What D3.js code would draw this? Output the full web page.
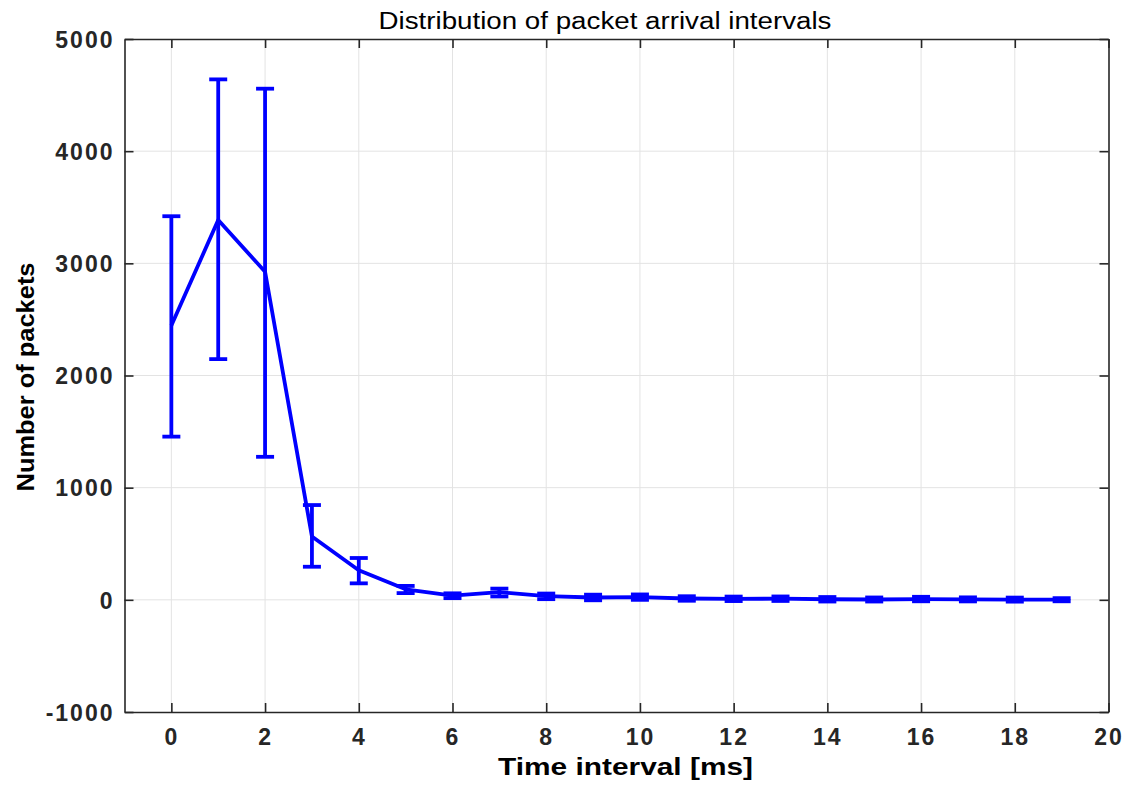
<!DOCTYPE html>
<html>
<head>
<meta charset="utf-8">
<script src="https://cdn.jsdelivr.net/npm/d3@7"></script>
<style>
  html, body { margin: 0; padding: 0; background: #fff; }
  svg { display: block; font-family: "Liberation Sans", Arial, sans-serif; }
</style>
</head>
<body>
<svg id="chart" width="1134" height="790"></svg>
<script>
// ---- data ----
const intervals = [0, 1, 2, 3, 4, 5, 6, 7, 8, 9, 10, 11, 12, 13, 14, 15, 16, 17, 18, 19];
const packets   = [2445, 3386, 2925, 565, 264, 94, 37, 68, 33, 21, 24, 12, 9, 10, 5, 3, 7, 4, 2, 1];
const lowerErr  = [990, 1240, 1650, 270, 117, 34, 22, 38, 27, 25, 24, 20, 20, 20, 20, 18, 20, 18, 18, 14];
const upperErr  = [975, 1254, 1632, 280, 109, 30, 21, 32, 23, 25, 24, 20, 20, 20, 20, 18, 20, 18, 18, 14];
const xTicks = [0, 2, 4, 6, 8, 10, 12, 14, 16, 18, 20];
const yTicks = [-1000, 0, 1000, 2000, 3000, 4000, 5000];
const titleText = "Distribution of packet arrival intervals";
const xLabelText = "Time interval [ms]";
const yLabelText = "Number of packets";

(function () {
// ---- layout ----
const svg = d3.select("#chart");
const pL = 124.5, pR = 1108.5, pT = 39, pB = 712;
const x = d3.scaleLinear().domain([-1, 20]).range([pL, pR]);
const y = d3.scaleLinear().domain([-1000, 5000]).range([pB, pT]);
const axisColor = "#262626";
const blue = "#0000ff";

// grid
const grid = svg.append("g");
grid.selectAll("line.vg").data(xTicks.filter(d => d < 20)).enter().append("line")
  .attr("x1", d => x(d)).attr("x2", d => x(d)).attr("y1", pT).attr("y2", pB)
  .attr("stroke", "#e3e3e3").attr("stroke-width", 1);
grid.selectAll("line.hg").data(yTicks.filter(d => d > -1000 && d < 5000)).enter().append("line")
  .attr("y1", d => y(d)).attr("y2", d => y(d)).attr("x1", pL).attr("x2", pR)
  .attr("stroke", "#e3e3e3").attr("stroke-width", 1);

// axes (box with inward ticks)
const tickLen = 9;
const fmt = d => String(d);
const axB = svg.append("g").attr("transform", `translate(0,${pB})`)
  .call(d3.axisBottom(x).tickValues(xTicks).tickSizeInner(-tickLen).tickSizeOuter(0).tickFormat(fmt));
const axT = svg.append("g").attr("transform", `translate(0,${pT})`)
  .call(d3.axisTop(x).tickValues(xTicks).tickSizeInner(-tickLen).tickSizeOuter(0).tickFormat(""));
const axL = svg.append("g").attr("transform", `translate(${pL},0)`)
  .call(d3.axisLeft(y).tickValues(yTicks).tickSizeInner(-tickLen).tickSizeOuter(0).tickFormat(fmt));
const axR = svg.append("g").attr("transform", `translate(${pR},0)`)
  .call(d3.axisRight(y).tickValues(yTicks).tickSizeInner(-tickLen).tickSizeOuter(0).tickFormat(""));

[axB, axT, axL, axR].forEach(a => {
  a.select(".domain").attr("stroke", axisColor).attr("stroke-width", 1.6);
  a.selectAll(".tick line").attr("stroke", axisColor).attr("stroke-width", 1.6);
});
axB.selectAll(".tick text").attr("font-size", 23).attr("font-weight", "bold")
  .attr("fill", axisColor).attr("letter-spacing", 2).attr("dy", "0").attr("y", 33)
  .attr("font-family", "Liberation Sans, Arial, sans-serif");
axL.selectAll(".tick text").attr("font-size", 23).attr("font-weight", "bold")
  .attr("fill", axisColor).attr("letter-spacing", 2).attr("dy", "0.36em")
  .attr("x", -10)
  .attr("font-family", "Liberation Sans, Arial, sans-serif");

// error bars
const capHalf = 9;
const eb = svg.append("g").attr("stroke", blue).attr("stroke-width", 3.8).attr("fill", "none");
intervals.forEach((t, i) => {
  const lo = packets[i] - lowerErr[i], hi = packets[i] + upperErr[i];
  eb.append("line").attr("x1", x(t)).attr("x2", x(t)).attr("y1", y(lo)).attr("y2", y(hi));
  eb.append("line").attr("x1", x(t) - capHalf).attr("x2", x(t) + capHalf).attr("y1", y(lo)).attr("y2", y(lo));
  eb.append("line").attr("x1", x(t) - capHalf).attr("x2", x(t) + capHalf).attr("y1", y(hi)).attr("y2", y(hi));
});

// line
const line = d3.line().x((d, i) => x(intervals[i])).y(d => y(d));
svg.append("path").datum(packets).attr("d", line)
  .attr("fill", "none").attr("stroke", blue).attr("stroke-width", 3.8).attr("stroke-linejoin", "round");

// title
svg.append("text").attr("x", 605).attr("y", 29).attr("text-anchor", "middle")
  .attr("font-size", 23).attr("fill", "#000").attr("textLength", 453).attr("lengthAdjust", "spacingAndGlyphs")
  .text(titleText);

// x label
svg.append("text").attr("x", 625.5).attr("y", 775).attr("text-anchor", "middle")
  .attr("font-size", 24).attr("font-weight", "bold").attr("fill", "#000")
  .attr("textLength", 255).attr("lengthAdjust", "spacingAndGlyphs")
  .text(xLabelText);

// y label
svg.append("text").attr("transform", "translate(34,377) rotate(-90)").attr("text-anchor", "middle")
  .attr("font-size", 24).attr("font-weight", "bold").attr("fill", "#000")
  .attr("textLength", 229).attr("lengthAdjust", "spacingAndGlyphs")
  .text(yLabelText);
})();
</script>
</body>
</html>
